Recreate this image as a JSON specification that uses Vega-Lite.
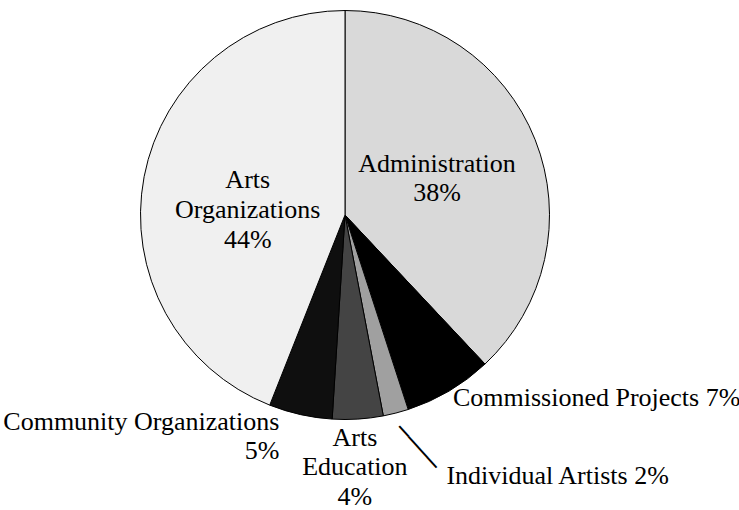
{
  "$schema": "https://vega.github.io/schema/vega-lite/v6.json",
  "width": 690,
  "height": 430,
  "autosize": "none",
  "padding": {"left": 0, "top": 0, "right": 49, "bottom": 80},
  "background": "white",
  "config": {"view": {"stroke": null}},
  "data": {
    "values": [
      {"category": "Administration", "value": 38, "order": 1, "label": "Administration\n38%"},
      {"category": "Commissioned Projects", "value": 7, "order": 2, "label": "Commissioned Projects 7%"},
      {"category": "Individual Artists", "value": 2, "order": 3, "label": "Individual Artists 2%"},
      {"category": "Arts Education", "value": 4, "order": 4, "label": "Arts\nEducation\n4%"},
      {"category": "Community Organizations", "value": 5, "order": 5, "label": "Community Organizations\n5%"},
      {"category": "Arts Organizations", "value": 44, "order": 6, "label": "Arts\nOrganizations\n44%"}
    ]
  },
  "encoding": {
    "theta": {"field": "value", "type": "quantitative", "stack": true},
    "order": {"field": "order", "type": "quantitative"}
  },
  "layer": [
    {
      "mark": {"type": "arc", "outerRadius": 204.5, "stroke": "#000000", "strokeWidth": 1},
      "encoding": {
        "color": {
          "field": "category",
          "type": "nominal",
          "scale": {
            "domain": ["Administration", "Commissioned Projects", "Individual Artists", "Arts Education", "Community Organizations", "Arts Organizations"],
            "range": ["#d9d9d9", "#000000", "#a0a0a0", "#444444", "#0f0f0f", "#f0f0f0"]
          },
          "legend": null
        }
      }
    },
    {
      "mark": {"type": "text", "radius": 99, "dy": -15, "align": "center", "baseline": "middle", "font": "Liberation Serif", "fontSize": 26, "lineHeight": 29.5, "lineBreak": "\n", "color": "#000000"},
      "encoding": {"text": {"condition": {"test": "datum.category === 'Administration'", "field": "label"}, "value": ""}}
    },
    {
      "mark": {"type": "text", "radius": 99, "dy": -16, "align": "center", "baseline": "middle", "font": "Liberation Serif", "fontSize": 26, "lineHeight": 30, "lineBreak": "\n", "color": "#000000"},
      "encoding": {"text": {"condition": {"test": "datum.category === 'Arts Organizations'", "field": "label"}, "value": ""}}
    },
    {
      "mark": {"type": "text", "radius": 212, "dy": 1, "align": "left", "baseline": "middle", "font": "Liberation Serif", "fontSize": 26, "lineHeight": 30, "lineBreak": "\n", "color": "#000000"},
      "encoding": {"text": {"condition": {"test": "datum.category === 'Commissioned Projects'", "field": "label"}, "value": ""}}
    },
    {
      "mark": {"type": "text", "radius": 218, "dx": -18, "dy": -6, "align": "right", "baseline": "middle", "font": "Liberation Serif", "fontSize": 26, "lineHeight": 29, "lineBreak": "\n", "color": "#000000"},
      "encoding": {"text": {"condition": {"test": "datum.category === 'Community Organizations'", "field": "label"}, "value": ""}}
    },
    {
      "mark": {"type": "text", "radius": 253, "dx": -6, "dy": -30, "align": "center", "baseline": "middle", "font": "Liberation Serif", "fontSize": 26, "lineHeight": 29.5, "lineBreak": "\n", "color": "#000000"},
      "encoding": {"text": {"condition": {"test": "datum.category === 'Arts Education'", "field": "label"}, "value": ""}}
    },
    {
      "mark": {"type": "text", "radius": 267, "dx": 35, "dy": 2, "align": "left", "baseline": "middle", "font": "Liberation Serif", "fontSize": 26, "lineHeight": 30, "lineBreak": "\n", "color": "#000000"},
      "encoding": {"text": {"condition": {"test": "datum.category === 'Individual Artists'", "field": "label"}, "value": ""}}
    },
    {
      "mark": {"type": "text", "radius": 240, "dx": 8.4, "dy": -9.3, "angle": 48, "align": "center", "baseline": "middle", "font": "DejaVu Sans Mono", "fontSize": 23, "color": "#000000"},
      "encoding": {"text": {"condition": {"test": "datum.category === 'Individual Artists'", "value": "────"}, "value": ""}}
    }
  ]
}
